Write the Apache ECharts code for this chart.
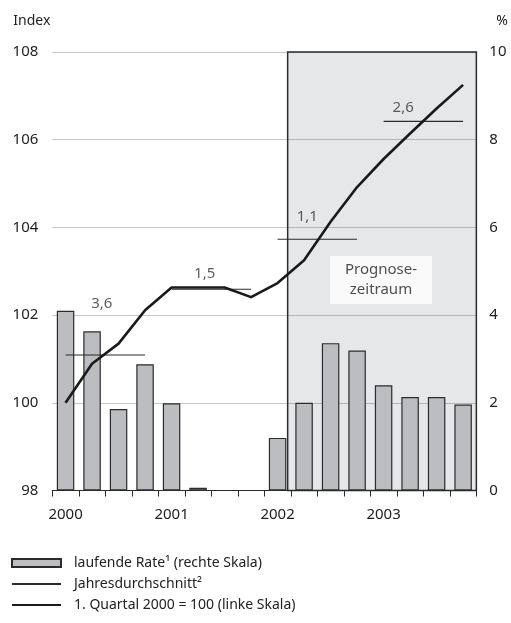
<!DOCTYPE html>
<html><head><meta charset="utf-8">
<script src="https://cdn.jsdelivr.net/npm/echarts@6/dist/echarts.min.js"></script>
<style>html,body{margin:0;padding:0;background:#fff}#c{width:511px;height:623px}</style>
</head><body><div id="c"></div>
<script>
// ---- data ----
const yearLabels = ['2000', '2001', '2002', '2003'];
const quartersPerYear = 4;
// laufende Rate (right scale, %), one per quarter 2000 Q1 .. 2003 Q4
const rateValues = [4.10, 3.63, 1.86, 2.88, 1.99, 0.06, 0, 0, 1.20, 2.00, 3.36, 3.19, 2.40, 2.13, 2.13, 1.96];
// 1. Quartal 2000 = 100 (left scale)
const indexValues = [100.00, 100.89, 101.35, 102.11, 102.63, 102.63, 102.63, 102.41, 102.73, 103.25, 104.13, 104.92, 105.56, 106.14, 106.71, 107.25];
// Jahresdurchschnitt (left scale)
const annualAverages = [101.09, 102.59, 103.73, 106.42];
const annualGrowthLabels = ['3,6', '1,5', '1,1', '2,6'];
const annualLabelX = [1.87, 5.75, 9.62, 13.24];
const annualLabelY = [102.25, 102.95, 104.24, 106.74];
const forecastStart = 8.88, forecastEnd = 16;
const forecastText = 'Prognose-\nzeitraum';
const forecastTextPos = [12.4, 102.8];
const leftMin = 98, leftMax = 108, leftStep = 2;
const rightMin = 0, rightMax = 10, rightStep = 2;

const rateName = 'laufende Rate¹ (rechte Skala)';
const avgName = 'Jahresdurchschnitt²';
const idxName = '1. Quartal 2000 = 100 (linke Skala)';

// ---- build ----
const nQ = rateValues.length;
const barData = rateValues.map((v, i) => [i + 0.5, v]);
const idxData = indexValues.map((v, i) => [i + 0.5, v]);
const avgData = [];
annualAverages.forEach((v, k) => {
  avgData.push([k * quartersPerYear + 0.5, v]);
  avgData.push([k * quartersPerYear + 3.5, v]);
  avgData.push([k * quartersPerYear + 3.7, '-']);
});
const growthData = annualGrowthLabels.map((t, k) => [annualLabelX[k], annualLabelY[k], t]);
const tickVals = []; for (let i = 0; i <= nQ; i++) tickVals.push(i);
const labelVals = yearLabels.map((y, k) => k * quartersPerYear + 0.5);

const FONT = 'Noto Sans';
const chart = echarts.init(document.getElementById('c'), null, {renderer: 'canvas'});
chart.setOption({
  animation: false,
  backgroundColor: '#fff',
  textStyle: {fontFamily: FONT},
  grid: {left: 52.3, right: 33.7, top: 52, bottom: 132.5, containLabel: false},
  legend: {
    orient: 'vertical', left: 6, top: 551, itemGap: 7,
    itemWidth: 49, itemHeight: 8,
    textStyle: {fontFamily: FONT, fontSize: 14, color: '#222', padding: [0, 0, 0, 8]},
    data: [
      {name: rateName, icon: 'rect'},
      {name: avgName, itemStyle: {opacity: 0}},
      {name: idxName, itemStyle: {opacity: 0}}
    ],
    selectedMode: false
  },
  xAxis: {
    type: 'value', min: 0, max: nQ, interval: 1,
    axisLine: {show: true, lineStyle: {color: '#2b2b2b', width: 1}},
    axisTick: {show: true, length: 6, lineStyle: {color: '#2b2b2b'}, customValues: tickVals},
    axisLabel: {show: true, customValues: labelVals, margin: 17, fontSize: 15, color: '#222', fontFamily: FONT,
      formatter: v => yearLabels[Math.round((v - 0.5) / quartersPerYear)]},
    splitLine: {show: false}
  },
  yAxis: [
    {
      type: 'value', min: leftMin, max: leftMax, interval: leftStep, position: 'left',
      name: 'Index', nameLocation: 'end', nameGap: 24,
      nameTextStyle: {fontFamily: FONT, fontSize: 14, color: '#222', align: 'right', padding: [0, 2, 0, 0]},
      axisLine: {show: false}, axisTick: {show: false},
      axisLabel: {margin: 14, fontSize: 15, color: '#222', fontFamily: FONT},
      splitLine: {show: true, lineStyle: {color: '#c6c6c6', width: 1}}
    },
    {
      type: 'value', min: rightMin, max: rightMax, interval: rightStep, position: 'right',
      name: '%', nameLocation: 'end', nameGap: 24,
      nameTextStyle: {fontFamily: FONT, fontSize: 14, color: '#222', align: 'left', padding: [0, 0, 0, 20]},
      axisLine: {show: false}, axisTick: {show: false},
      axisLabel: {margin: 13, fontSize: 15, color: '#222', fontFamily: FONT},
      splitLine: {show: false}
    }
  ],
  series: [
    {
      type: 'line', name: 'forecast', data: [], z: 1, silent: true, symbol: 'none',
      markArea: {
        silent: true,
        itemStyle: {color: 'rgba(25,35,55,0.11)', borderColor: '#2b2b2b', borderWidth: 1.5},
        data: [[{xAxis: forecastStart, yAxis: leftMax}, {xAxis: forecastEnd, yAxis: leftMin}]]
      }
    },
    {
      type: 'bar', name: rateName, yAxisIndex: 1, data: barData, barWidth: 17.5, z: 3,
      itemStyle: {color: '#bcbdc1', borderColor: '#2b2b2b', borderWidth: 1.2}
    },
    {
      type: 'line', name: avgName, yAxisIndex: 0, data: avgData, symbol: 'none', connectNulls: false, z: 4,
      lineStyle: {color: '#2b2b2b', width: 1.2}, itemStyle: {color: '#2b2b2b'}
    },
    {
      type: 'line', name: idxName, yAxisIndex: 0, data: idxData, symbol: 'none', z: 5,
      lineStyle: {color: '#1a1a1a', width: 2.6, join: 'round'}, itemStyle: {color: '#1a1a1a'}
    },
    {
      type: 'scatter', name: 'growth', yAxisIndex: 0, data: growthData, symbolSize: 0, z: 6, silent: true,
      label: {show: true, position: 'inside', formatter: p => p.data[2], fontSize: 15, color: '#333', fontFamily: FONT}
    },
    {
      type: 'scatter', name: 'forecastLabel', yAxisIndex: 0, data: [forecastTextPos], symbolSize: 0, z: 6, silent: true,
      label: {show: true, position: 'inside', formatter: forecastText, fontSize: 15, lineHeight: 20, color: '#222',
        fontFamily: FONT, backgroundColor: '#fff', padding: [4, 15, 4, 15], align: 'center'}
    }
  ]
});
</script>
</body></html>
